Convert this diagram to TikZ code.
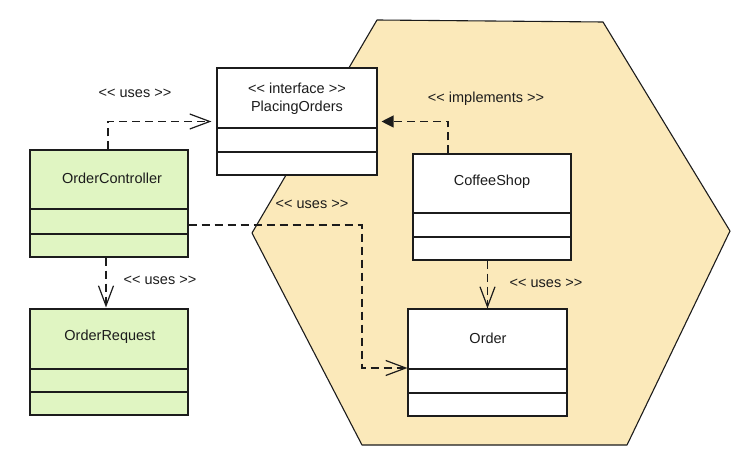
\documentclass[tikz,border=0pt]{standalone}
\usepackage{fontspec}
\setmainfont{Liberation Sans}
\usetikzlibrary{arrows.meta}
\definecolor{hexSand}{HTML}{FBE9BA}
\definecolor{clsGreen}{HTML}{E0F5C2}
\definecolor{clsInk}{HTML}{1C1C1C}
\newcommand\stereo[1]{<\kern0pt< #1 >\kern0pt>}
\tikzset{
  hex border/.style={draw=clsInk, fill=hexSand, line width=1.1pt, line join=round},
  uml class/.style={draw=clsInk, fill=white, line width=1.1pt, minimum width=158pt, minimum height=106pt, inner sep=0pt},
  uml sep/.style={draw=clsInk, line width=1.1pt},
  uml name/.style={font=\fontsize{14.5}{18}\selectfont, text=clsInk, align=center},
  uml note/.style={font=\fontsize{14.5}{17}\selectfont, text=clsInk},
  uml uses/.style={draw=clsInk, line width=1.2pt, dash pattern=on 8pt off 5pt, -{Straight Barb[length=20pt,width=15pt]}},
  uml implements/.style={draw=clsInk, line width=1.2pt, dash pattern=on 8pt off 5pt, -{Triangle[length=12pt,width=12pt]}},
}

\begin{document}
\begin{tikzpicture}[x=1pt, y=-1pt]
  \useasboundingbox (0,0) rectangle (735,462);

  % the application hexagon
  \draw[hex border] (377,20) -- (603,22) -- (730,231) -- (627,445) -- (362,445) -- (252,233) -- cycle;

  % class boxes
  \node[uml class, minimum width=160pt, minimum height=107pt] (iface) at (297,121.5) {};
  \node[uml class, fill=clsGreen, minimum height=107pt] (ctrl) at (109,203.5) {};
  \node[uml class, fill=clsGreen] (req) at (109,362) {};
  \node[uml class] (shop) at (492,207) {};
  \node[uml class, minimum width=159pt, minimum height=107pt] (order) at (487.5,362.5) {};

  % compartment lines
  \foreach \n/\a/\b in {iface/128/152, ctrl/209/234, req/369/392, shop/213/237, order/369/393} {
    \draw[uml sep] (\n.west |- 0,\a) -- (\n.east |- 0,\a);
    \draw[uml sep] (\n.west |- 0,\b) -- (\n.east |- 0,\b);
  }

  % class names
  \node[uml name] (ifaceName) at (297,99) {\stereo{interface}\\PlacingOrders};
  \node[uml name] (ctrlName) at (112,178) {OrderController};
  \node[uml name] (reqName) at (110,337) {OrderRequest};
  \node[uml name] (shopName) at (492,182) {CoffeeShop};
  \node[uml name] (orderName) at (488,338) {Order};

  % dependencies
  \draw[uml uses, shorten >=5pt] ([xshift=-1pt]ctrl.north) |- (iface.west);
  \draw[uml implements, shorten >=4pt] ([xshift=-44pt]shop.north) |- (iface.east);
  \coordinate (bend) at (362,368);
  \draw[uml uses] (ctrl.east |- 0,225) -| (bend) -- (order.west |- bend);
  \draw[uml uses, shorten >=1pt] ([xshift=-3pt]ctrl.south) -- ([xshift=-3pt]req.north);
  \draw[uml uses] (shop.south -| order.north) -- (order.north);

  % stereotype labels
  \node[uml note] (usesA) at (135,93) {\stereo{uses}};
  \node[uml note] (implB) at (486,99) {\stereo{implements}};
  \node[uml note] (usesC) at (312,204) {\stereo{uses}};
  \node[uml note] (usesD) at (160,280) {\stereo{uses}};
  \node[uml note] (usesE) at (546,283) {\stereo{uses}};
\end{tikzpicture}
\end{document}
